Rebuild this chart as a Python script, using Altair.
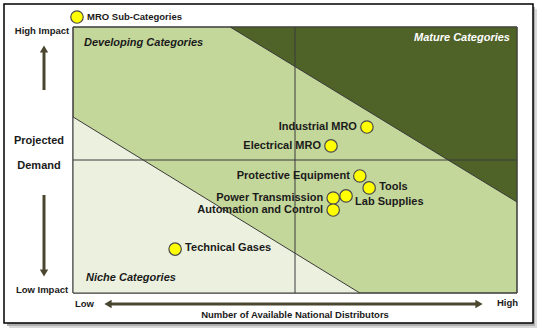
import altair as alt
import pandas as pd

# ---- data ----
names = ["Industrial MRO", "Electrical MRO", "Protective Equipment", "Tools",
         "Lab Supplies", "Power Transmission", "Automation and Control", "Technical Gases"]
distributors = [6.62, 5.81, 6.46, 6.67, 6.15, 5.86, 5.86, 2.30]
demand = [6.24, 5.53, 4.40, 3.95, 3.65, 3.57, 3.12, 1.65]
right_labelled = ["Tools", "Technical Gases"]
below_right = ["Lab Supplies"]

mature_x = [3.54, 10.0]
mature_y = [10.0, 3.42]
niche_x = [0.0, 6.46]
niche_y = [6.62, 0.0]
divider = 5.0

pts = pd.DataFrame({"name": names, "x": distributors, "y": demand})
mature = pd.DataFrame({"x": mature_x, "y": mature_y, "y2": [10.0, 10.0]})
niche = pd.DataFrame({"x": niche_x, "y": niche_y, "y2": [0.0, 0.0]})

W, H = 444, 266
X = alt.X("x:Q", scale=alt.Scale(domain=[0, 10], nice=False, zero=False), axis=None)
Y = alt.Y("y:Q", scale=alt.Scale(domain=[0, 10], nice=False, zero=False), axis=None)

FONT = "Liberation Sans"
DARK = "#4f6228"
MID = "#c4d79b"
LIGHT = "#ebf1de"
ARROW = "#4a4630"
LINE = "#3a3a3a"

one = pd.DataFrame({"a": [0]})

def deco_rect(x, x2, y, y2, **kw):
    return alt.Chart(one).mark_rect(**kw).encode(
        x=alt.value(x), x2=alt.value(x2), y=alt.value(y), y2=alt.value(y2))

def deco_text(txt, x, y, **kw):
    return alt.Chart(one).mark_text(text=txt, font=FONT, fontWeight="bold",
                                    baseline="middle", **kw).encode(
        x=alt.value(x), y=alt.value(y))

def deco_rule(x, x2, y, y2, **kw):
    return alt.Chart(one).mark_rule(**kw).encode(
        x=alt.value(x), x2=alt.value(x2), y=alt.value(y), y2=alt.value(y2))

def deco_tri(shape, x, y, size):
    return alt.Chart(one).mark_point(shape=shape, filled=True, color=ARROW,
                                     opacity=1, size=size).encode(
        x=alt.value(x), y=alt.value(y))

shadow2 = deco_rect(-64, 464, -18, 301, fill="#d0d0d0", opacity=0.8)
shadow = deco_rect(-66, 462, -20, 299, fill="#a8a8a8", opacity=0.9)
frame = deco_rect(-69, 460, -23, 296, fill="white", stroke="black", strokeWidth=1.5)

bg = alt.Chart(pd.DataFrame({"x": [0.0], "x2": [10.0], "y": [0.0], "y2": [10.0]})).mark_rect(
    fill=MID, stroke=LINE, strokeWidth=1).encode(x=X, x2="x2:Q", y=Y, y2="y2:Q")

mature_area = alt.Chart(mature).mark_area(color=DARK, opacity=1).encode(x=X, y=Y, y2="y2:Q")
niche_area = alt.Chart(niche).mark_area(color=LIGHT, opacity=1).encode(x=X, y=Y, y2="y2:Q")
mature_line = alt.Chart(mature).mark_line(color=LINE, strokeWidth=1).encode(x=X, y=Y)
niche_line = alt.Chart(niche).mark_line(color=LINE, strokeWidth=1).encode(x=X, y=Y)

vrule = alt.Chart(pd.DataFrame({"x": [divider]})).mark_rule(color=LINE, strokeWidth=1).encode(x=X)
hrule = alt.Chart(pd.DataFrame({"y": [divider]})).mark_rule(color=LINE, strokeWidth=1).encode(y=Y)

border = alt.Chart(pd.DataFrame({"x": [0.0], "x2": [10.0], "y": [0.0], "y2": [10.0]})).mark_rect(
    fill=None, stroke=LINE, strokeWidth=1).encode(x=X, x2="x2:Q", y=Y, y2="y2:Q")

points = alt.Chart(pts).mark_point(filled=True, fill="#ffff00", stroke="#4a4a4a",
                                   strokeWidth=1.2, opacity=1, size=155).encode(x=X, y=Y)

lab_kw = dict(font=FONT, fontWeight="bold", fontSize=11, color="#1a1a1a", baseline="middle")
left_labels = alt.Chart(pts).transform_filter(
    ~alt.FieldOneOfPredicate(field="name", oneOf=right_labelled + below_right)
).mark_text(align="right", dx=-10, **lab_kw).encode(x=X, y=Y, text="name:N")
right_labels = alt.Chart(pts).transform_filter(
    alt.FieldOneOfPredicate(field="name", oneOf=right_labelled)
).mark_text(align="left", dx=10, dy=-1, **lab_kw).encode(x=X, y=Y, text="name:N")
br_labels = alt.Chart(pts).transform_filter(
    alt.FieldOneOfPredicate(field="name", oneOf=below_right)
).mark_text(align="left", dx=9, dy=6, **lab_kw).encode(x=X, y=Y, text="name:N")

region_kw = dict(fontSize=11, fontStyle="italic")
developing = deco_text("Developing Categories", 11, 16, align="left", color="#1a1a1a", **region_kw)
mature_t = deco_text("Mature Categories", 437, 11, align="right", color="white", **region_kw)
niche_t = deco_text("Niche Categories", 13, 251, align="left", color="#1a1a1a", **region_kw)

# legend
leg_pt = alt.Chart(one).mark_point(filled=True, fill="#ffff00", stroke="#4a4a4a",
                                   strokeWidth=1.2, opacity=1, size=155).encode(
    x=alt.value(4), y=alt.value(-10))
leg_txt = deco_text("MRO Sub-Categories", 14, -10, align="left", fontSize=9.5, color="#1a1a1a")

# left axis decorations
hi = deco_text("High Impact", -31, 4, align="center", fontSize=9.5, color="#1a1a1a")
proj = deco_text("Projected", -34, 114, align="center", fontSize=11, color="#1a1a1a")
dem = deco_text("Demand", -34, 139, align="center", fontSize=11, color="#1a1a1a")
lo = deco_text("Low Impact", -31, 263, align="center", fontSize=9.5, color="#1a1a1a")
up_shaft = deco_rule(-29, -29, 25, 63, color=ARROW, strokeWidth=3)
up_head = deco_tri("triangle-up", -29, 22, 70)
dn_shaft = deco_rule(-29, -29, 168, 243, color=ARROW, strokeWidth=3)
dn_head = deco_tri("triangle-down", -29, 246, 70)

# bottom axis decorations
low_t = deco_text("Low", 2, 277, align="left", fontSize=9.5, color="#1a1a1a")
high_t = deco_text("High", 424, 276, align="left", fontSize=9.5, color="#1a1a1a")
h_shaft = deco_rule(35, 405, 277, 277, color=ARROW, strokeWidth=3)
l_head = deco_tri("triangle-left", 35, 277, 70)
r_head = deco_tri("triangle-right", 406, 277, 70)
xtitle = deco_text("Number of Available National Distributors", 222, 288, align="center",
                   fontSize=9.5, color="#1a1a1a")

chart = alt.layer(
    shadow2, shadow, frame, bg, mature_area, niche_area, mature_line, niche_line, vrule, hrule,
    border, points, left_labels, right_labels, br_labels, developing, mature_t, niche_t,
    leg_pt, leg_txt, hi, proj, dem, lo, up_shaft, up_head, dn_shaft, dn_head,
    low_t, high_t, h_shaft, l_head, r_head, xtitle
).properties(
    width=W, height=H,
    autosize=alt.AutoSizeParams(type="none"),
    padding={"left": 73, "top": 27, "right": 26, "bottom": 40},
    background="white"
).configure_view(stroke=None)

chart.save("out.html", embed_options={"renderer": "svg", "actions": False})
